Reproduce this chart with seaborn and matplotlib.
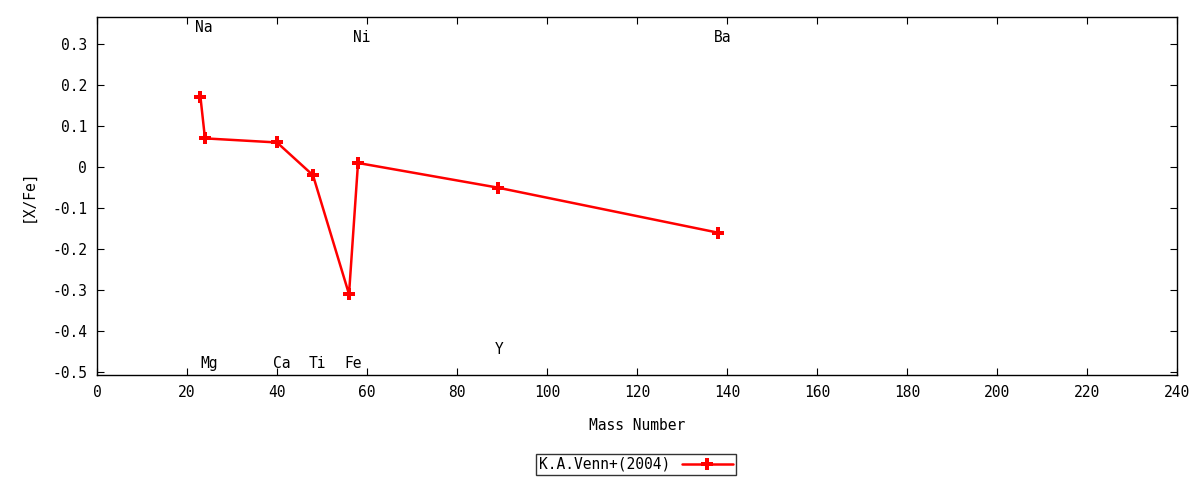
import matplotlib
matplotlib.use("Agg")
import matplotlib.pyplot as plt
import pandas as pd
import seaborn as sns

# [X/Fe] against mass number, K.A.Venn+(2004)
elements = ["Na", "Mg", "Ca", "Ti", "Fe", "Ni", "Y", "Ba"]
mass_number = [23, 24, 40, 48, 56, 58, 89, 138]
x_fe = [0.17, 0.07, 0.06, -0.02, -0.31, 0.01, -0.05, -0.16]

# where the element names sit (data coords)
label_x = [23.8, 25.0, 41.0, 49.0, 57.0, 58.9, 89.3, 138.9]
label_y = [0.341, -0.478, -0.478, -0.478, -0.478, 0.317, -0.444, 0.317]

df = pd.DataFrame({"mass": mass_number, "xfe": x_fe, "element": elements})

sns.set_style("ticks")
plt.rcParams["font.family"] = ["DejaVu Sans Mono", "DejaVu Sans"]
plt.rcParams["font.size"] = 10
plt.rcParams["text.color"] = "black"
plt.rcParams["axes.labelcolor"] = "black"
plt.rcParams["xtick.color"] = "black"
plt.rcParams["ytick.color"] = "black"

fig = plt.figure(figsize=(12, 4.8), dpi=100)
ax = fig.add_axes([0.0808, 0.2188, 0.9002, 0.7458])

sns.lineplot(data=df, x="mass", y="xfe", ax=ax, color="red", linewidth=1.8,
             marker="P", markersize=8, markeredgewidth=0, sort=False,
             label="K.A.Venn+(2004)")

for name, lx, ly in zip(elements, label_x, label_y):
    ax.text(lx, ly, name, ha="center", va="center", fontsize=10.5, color="black")

ax.set_xlim(0, 240)
ax.set_ylim(-0.507, 0.366)
ax.set_xticks(range(0, 241, 20))
ax.set_yticks([0.3, 0.2, 0.1, 0, -0.1, -0.2, -0.3, -0.4, -0.5])
ax.set_yticklabels(["0.3", "0.2", "0.1", "0", "-0.1", "-0.2", "-0.3", "-0.4", "-0.5"])
ax.tick_params(direction="in", length=5, top=True, right=True, labelsize=10.5,
               pad=7, colors="black")
for s in ax.spines.values():
    s.set_linewidth(1.0)
    s.set_color("black")

ax.set_xlabel("Mass Number", fontsize=10.5, labelpad=13)
ax.set_ylabel("[X/Fe]", fontsize=10.5, labelpad=12)

leg = ax.legend(loc="upper center", bbox_to_anchor=(0.53, 0.054),
                bbox_transform=fig.transFigure, frameon=True,
                fancybox=False, edgecolor="black", fontsize=10.5,
                markerfirst=False, handlelength=3.5, borderpad=0.2,
                borderaxespad=0)
leg.get_frame().set_linewidth(1.0)

fig.savefig("out.png", dpi=100)
